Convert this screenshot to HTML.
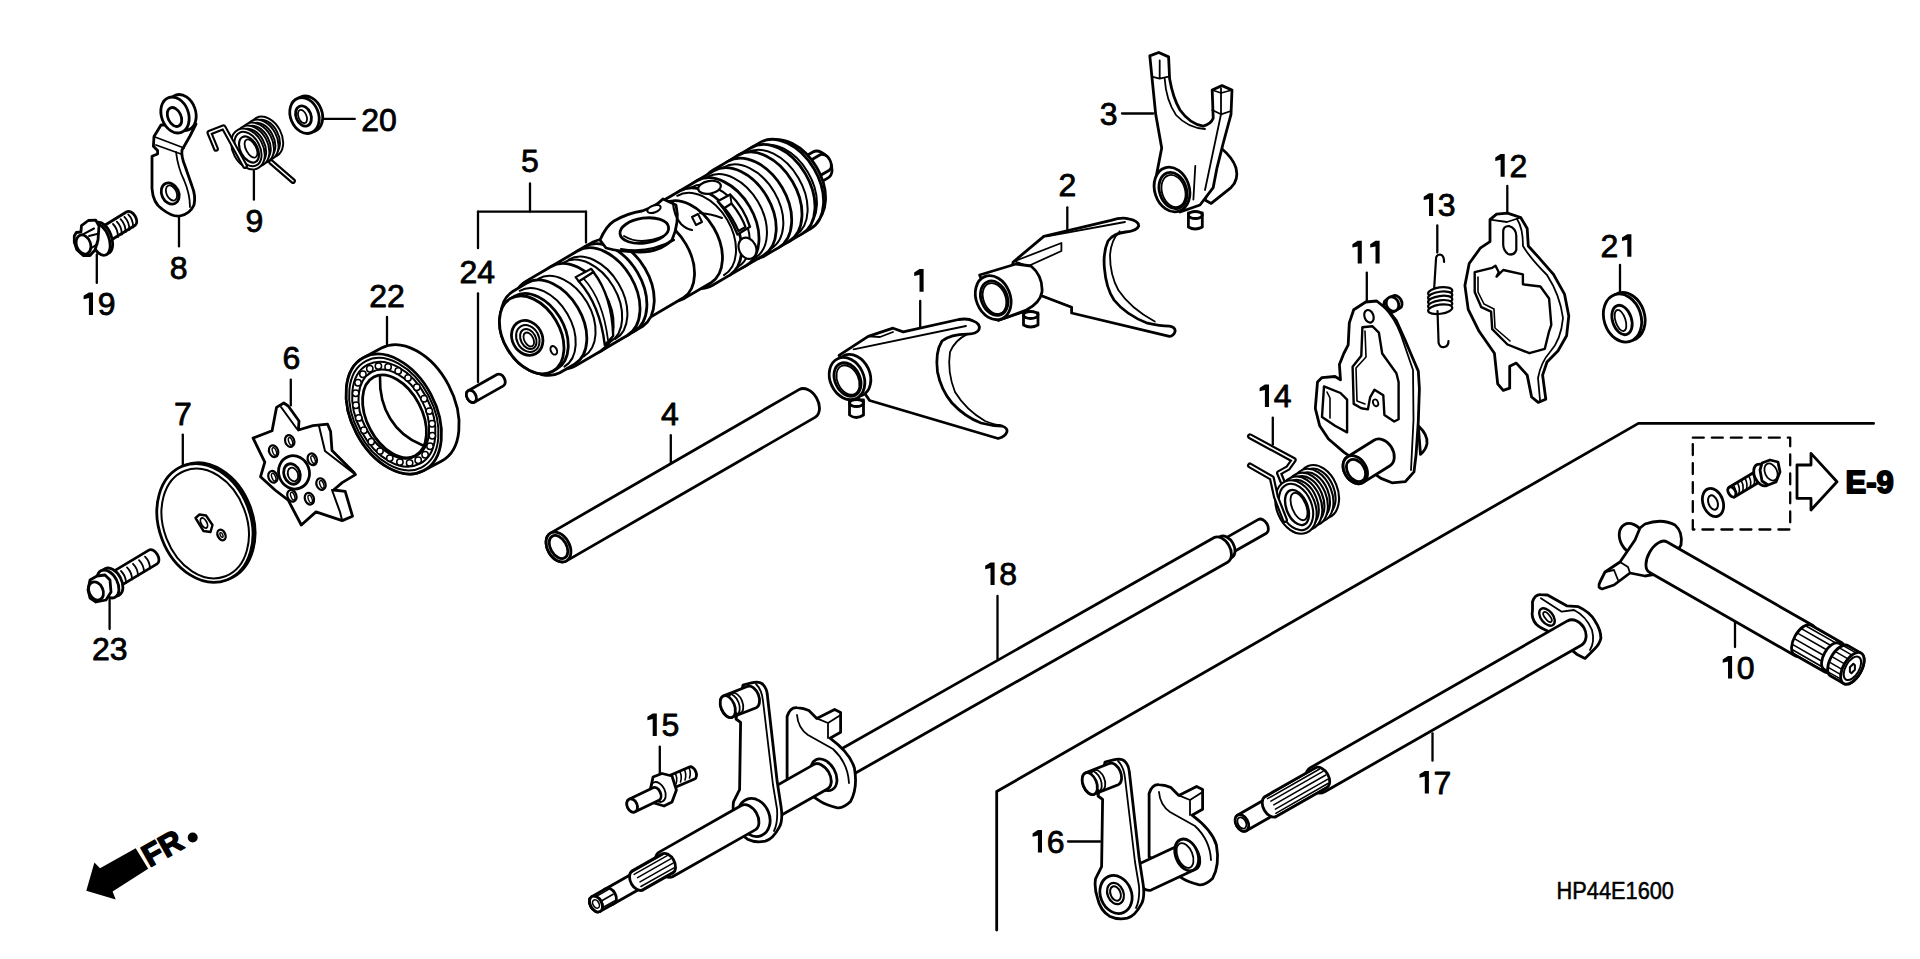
<!DOCTYPE html>
<html><head><meta charset="utf-8"><style>
html,body{margin:0;padding:0;background:#fff;width:1920px;height:959px;overflow:hidden}
svg{display:block}
text{font-family:"Liberation Sans",sans-serif;fill:#000;stroke:none}
</style></head><body>
<svg width="1920" height="959" viewBox="0 0 1920 959" stroke="#000" stroke-linejoin="round" stroke-linecap="round" fill="none">
<rect x="0" y="0" width="1920" height="959" fill="#fff" stroke="none"/>
<text x="361.2" y="131" font-size="32" text-anchor="start" font-weight="normal" style="stroke:#000;stroke-width:0.8px">2</text>
<text x="379" y="131" font-size="32" text-anchor="start" font-weight="normal" style="stroke:#000;stroke-width:0.8px">0</text>
<text x="245.6" y="231.8" font-size="32" text-anchor="start" font-weight="normal" style="stroke:#000;stroke-width:0.8px">9</text>
<text x="169.7" y="278.5" font-size="32" text-anchor="start" font-weight="normal" style="stroke:#000;stroke-width:0.8px">8</text>
<path d="M88.9,292.4 L93,292.4 L93,315 L88.9,315 L88.9,298 L83.6,299.2 L83.6,295.8 Z" fill="#000" stroke="none"/>
<text x="97.7" y="315" font-size="32" text-anchor="start" font-weight="normal" style="stroke:#000;stroke-width:0.8px">9</text>
<text x="521.1" y="172.2" font-size="32" text-anchor="start" font-weight="normal" style="stroke:#000;stroke-width:0.8px">5</text>
<text x="459.5" y="283.4" font-size="32" text-anchor="start" font-weight="normal" style="stroke:#000;stroke-width:0.8px">2</text>
<text x="477.3" y="283.4" font-size="32" text-anchor="start" font-weight="normal" style="stroke:#000;stroke-width:0.8px">4</text>
<text x="369.2" y="307" font-size="32" text-anchor="start" font-weight="normal" style="stroke:#000;stroke-width:0.8px">2</text>
<text x="387" y="307" font-size="32" text-anchor="start" font-weight="normal" style="stroke:#000;stroke-width:0.8px">2</text>
<text x="282.5" y="369.2" font-size="32" text-anchor="start" font-weight="normal" style="stroke:#000;stroke-width:0.8px">6</text>
<text x="174.1" y="425.3" font-size="32" text-anchor="start" font-weight="normal" style="stroke:#000;stroke-width:0.8px">7</text>
<text x="92" y="660" font-size="32" text-anchor="start" font-weight="normal" style="stroke:#000;stroke-width:0.8px">2</text>
<text x="109.8" y="660" font-size="32" text-anchor="start" font-weight="normal" style="stroke:#000;stroke-width:0.8px">3</text>
<text x="661.1" y="424.9" font-size="32" text-anchor="start" font-weight="normal" style="stroke:#000;stroke-width:0.8px">4</text>
<path d="M919.5,269.1 L923.6,269.1 L923.6,291.7 L919.5,291.7 L919.5,274.7 L914.2,275.9 L914.2,272.5 Z" fill="#000" stroke="none"/>
<text x="1099.7" y="124.5" font-size="32" text-anchor="start" font-weight="normal" style="stroke:#000;stroke-width:0.8px">3</text>
<text x="1058.4" y="196.4" font-size="32" text-anchor="start" font-weight="normal" style="stroke:#000;stroke-width:0.8px">2</text>
<path d="M1500.6,154.1 L1504.7,154.1 L1504.7,176.7 L1500.6,176.7 L1500.6,159.7 L1495.3,160.9 L1495.3,157.5 Z" fill="#000" stroke="none"/>
<text x="1509.4" y="176.7" font-size="32" text-anchor="start" font-weight="normal" style="stroke:#000;stroke-width:0.8px">2</text>
<path d="M1429,193.3 L1433.1,193.3 L1433.1,215.9 L1429,215.9 L1429,198.9 L1423.7,200.1 L1423.7,196.7 Z" fill="#000" stroke="none"/>
<text x="1437.8" y="215.9" font-size="32" text-anchor="start" font-weight="normal" style="stroke:#000;stroke-width:0.8px">3</text>
<path d="M1357.7,240.8 L1361.8,240.8 L1361.8,263.4 L1357.7,263.4 L1357.7,246.4 L1352.4,247.6 L1352.4,244.2 Z" fill="#000" stroke="none"/>
<path d="M1375.5,240.8 L1379.6,240.8 L1379.6,263.4 L1375.5,263.4 L1375.5,246.4 L1370.2,247.6 L1370.2,244.2 Z" fill="#000" stroke="none"/>
<text x="1600.5" y="256.8" font-size="32" text-anchor="start" font-weight="normal" style="stroke:#000;stroke-width:0.8px">2</text>
<path d="M1627.3,234.2 L1631.4,234.2 L1631.4,256.8 L1627.3,256.8 L1627.3,239.8 L1622,241 L1622,237.6 Z" fill="#000" stroke="none"/>
<path d="M1264.9,384.5 L1269,384.5 L1269,407.1 L1264.9,407.1 L1264.9,390.1 L1259.6,391.3 L1259.6,387.9 Z" fill="#000" stroke="none"/>
<text x="1273.7" y="407.1" font-size="32" text-anchor="start" font-weight="normal" style="stroke:#000;stroke-width:0.8px">4</text>
<path d="M990.5,562.4 L994.6,562.4 L994.6,585 L990.5,585 L990.5,568 L985.2,569.2 L985.2,565.8 Z" fill="#000" stroke="none"/>
<text x="999.3" y="585" font-size="32" text-anchor="start" font-weight="normal" style="stroke:#000;stroke-width:0.8px">8</text>
<path d="M652.7,713.4 L656.8,713.4 L656.8,736 L652.7,736 L652.7,719 L647.4,720.2 L647.4,716.8 Z" fill="#000" stroke="none"/>
<text x="661.5" y="736" font-size="32" text-anchor="start" font-weight="normal" style="stroke:#000;stroke-width:0.8px">5</text>
<path d="M1037.9,830 L1042,830 L1042,852.6 L1037.9,852.6 L1037.9,835.6 L1032.6,836.8 L1032.6,833.4 Z" fill="#000" stroke="none"/>
<text x="1046.7" y="852.6" font-size="32" text-anchor="start" font-weight="normal" style="stroke:#000;stroke-width:0.8px">6</text>
<path d="M1424.8,770.9 L1428.9,770.9 L1428.9,793.5 L1424.8,793.5 L1424.8,776.5 L1419.5,777.7 L1419.5,774.3 Z" fill="#000" stroke="none"/>
<text x="1433.6" y="793.5" font-size="32" text-anchor="start" font-weight="normal" style="stroke:#000;stroke-width:0.8px">7</text>
<path d="M1728,656 L1732.1,656 L1732.1,678.6 L1728,678.6 L1728,661.6 L1722.7,662.8 L1722.7,659.4 Z" fill="#000" stroke="none"/>
<text x="1736.8" y="678.6" font-size="32" text-anchor="start" font-weight="normal" style="stroke:#000;stroke-width:0.8px">0</text>
<line x1="322.5" y1="118.9" x2="354.8" y2="118.9" stroke-width="2.3"/>
<line x1="253.9" y1="171" x2="253.9" y2="199.7" stroke-width="2.3"/>
<line x1="179" y1="218" x2="179" y2="246.4" stroke-width="2.3"/>
<line x1="96.8" y1="254.5" x2="96.8" y2="282.9" stroke-width="2.3"/>
<line x1="530" y1="183.5" x2="530" y2="211.6" stroke-width="2.3"/>
<line x1="478" y1="211.6" x2="586" y2="211.6" stroke-width="2.3"/>
<line x1="586" y1="211.6" x2="586" y2="242.6" stroke-width="2.3"/>
<line x1="478" y1="211.6" x2="478" y2="248.2" stroke-width="2.3"/>
<line x1="478" y1="293.3" x2="478" y2="382" stroke-width="2.3"/>
<line x1="387" y1="317" x2="387" y2="344.6" stroke-width="2.3"/>
<line x1="290.8" y1="379.6" x2="290.8" y2="405.4" stroke-width="2.3"/>
<line x1="182.8" y1="434.6" x2="182.8" y2="465.6" stroke-width="2.3"/>
<line x1="109.6" y1="599.7" x2="109.6" y2="629" stroke-width="2.3"/>
<line x1="670.8" y1="435.2" x2="670.8" y2="462.4" stroke-width="2.3"/>
<line x1="920.2" y1="301" x2="920.2" y2="328.8" stroke-width="2.3"/>
<line x1="1122" y1="113.5" x2="1153.3" y2="113.5" stroke-width="2.3"/>
<line x1="1067.3" y1="207.3" x2="1067.3" y2="232.4" stroke-width="2.3"/>
<line x1="1507.3" y1="185.9" x2="1507.3" y2="215" stroke-width="2.3"/>
<line x1="1437.3" y1="225.5" x2="1437.3" y2="252.6" stroke-width="2.3"/>
<line x1="1366.8" y1="272.6" x2="1366.8" y2="300.5" stroke-width="2.3"/>
<line x1="1620" y1="265" x2="1620" y2="294.3" stroke-width="2.3"/>
<line x1="1272.8" y1="417.6" x2="1272.8" y2="444.7" stroke-width="2.3"/>
<line x1="997.5" y1="596" x2="997.5" y2="659" stroke-width="2.3"/>
<line x1="659.8" y1="746.6" x2="659.8" y2="774.4" stroke-width="2.3"/>
<line x1="1068" y1="841.5" x2="1100" y2="841.5" stroke-width="2.3"/>
<line x1="1432.5" y1="733.3" x2="1432.5" y2="760.7" stroke-width="2.3"/>
<line x1="1735" y1="622" x2="1735" y2="647" stroke-width="2.3"/>
<path d="M996.7,930 L996.7,791.5 L1638.4,423.4 L1873.6,423.4" fill="none" stroke-width="2.8"/>
<rect x="1692.8" y="437.7" width="97.4" height="91.8" fill="none" stroke-width="2.3" stroke-dasharray="11,8"/>
<path d="M1797,465 L1811,465 L1811,453.4 L1837,481.7 L1811,510 L1811,498.4 L1797,498.4 Z" fill="none" stroke-width="2.8"/>
<text x="1845.5" y="493" font-size="31" text-anchor="start" font-weight="bold" style="stroke:#000;stroke-width:1.8px">E-9</text>
<text x="1556.5" y="899.3" font-size="23.3" text-anchor="start" font-weight="normal" textLength="117.5" lengthAdjust="spacingAndGlyphs" style="stroke:#000;stroke-width:0.5px">HP44E1600</text>
<path d="M86.3,890.7 L94.4,862.6 L100,868.2 L135.7,848.2 L148.2,868.8 L112.6,891.4 L115.7,899.5 Z" fill="#000" stroke="none"/>
<text x="0" y="0" font-size="31" font-weight="bold" style="stroke:#000;stroke-width:1.6px" transform="translate(149.5,867.5) rotate(-29.3)">FR</text>
<circle cx="192.7" cy="837.5" r="5" fill="#000" stroke="none"/>
<path d="M566.5,560.9 L815,417.4 A11,16 -30 0 0 799,389.6 L550.5,533.1 A11,16 -30 0 0 566.5,560.9 Z" fill="#fff" stroke-width="2.8"/>
<ellipse cx="558.5" cy="547" rx="11" ry="16" transform="rotate(-30 558.5 547)" fill="#fff" stroke-width="2.8"/>
<ellipse cx="558.5" cy="547" rx="8" ry="12.5" transform="rotate(-30 558.5 547)" fill="none" stroke-width="2.8"/>
<ellipse cx="308" cy="114" rx="14" ry="18.5" transform="rotate(-22 308 114)" fill="#fff" stroke-width="2.8"/>
<ellipse cx="304.5" cy="115.5" rx="14" ry="18.5" transform="rotate(-22 304.5 115.5)" fill="#fff" stroke-width="2.8"/>
<ellipse cx="303.5" cy="116" rx="7.5" ry="10.5" transform="rotate(-22 303.5 116)" fill="#fff" stroke-width="2.8"/>
<ellipse cx="302.5" cy="116.5" rx="4" ry="7" transform="rotate(-22 302.5 116.5)" fill="none" stroke-width="1.8"/>
<path d="M271,162 L293,181" fill="none" stroke-width="5.8"/>
<path d="M271,162 L293,181" fill="none" stroke="#fff" stroke-width="1.6"/>
<ellipse cx="266.4" cy="137" rx="13.5" ry="20" transform="rotate(-28 266.4 137)" fill="#fff" stroke-width="5.2"/>
<ellipse cx="266.4" cy="137" rx="13.5" ry="20" transform="rotate(-28 266.4 137)" fill="none" stroke="#fff" stroke-width="1.3"/>
<ellipse cx="261.8" cy="140" rx="13.5" ry="20" transform="rotate(-28 261.8 140)" fill="#fff" stroke-width="5.2"/>
<ellipse cx="261.8" cy="140" rx="13.5" ry="20" transform="rotate(-28 261.8 140)" fill="none" stroke="#fff" stroke-width="1.3"/>
<ellipse cx="257.2" cy="143" rx="13.5" ry="20" transform="rotate(-28 257.2 143)" fill="#fff" stroke-width="5.2"/>
<ellipse cx="257.2" cy="143" rx="13.5" ry="20" transform="rotate(-28 257.2 143)" fill="none" stroke="#fff" stroke-width="1.3"/>
<ellipse cx="252.6" cy="146" rx="13.5" ry="20" transform="rotate(-28 252.6 146)" fill="#fff" stroke-width="5.2"/>
<ellipse cx="252.6" cy="146" rx="13.5" ry="20" transform="rotate(-28 252.6 146)" fill="none" stroke="#fff" stroke-width="1.3"/>
<ellipse cx="248" cy="149" rx="13.5" ry="20" transform="rotate(-28 248 149)" fill="#fff" stroke-width="5.2"/>
<ellipse cx="248" cy="149" rx="13.5" ry="20" transform="rotate(-28 248 149)" fill="none" stroke="#fff" stroke-width="1.3"/>
<ellipse cx="249" cy="149.5" rx="8.5" ry="14" transform="rotate(-28 249 149.5)" fill="none" stroke-width="2.2"/>
<ellipse cx="251" cy="148.5" rx="5" ry="10" transform="rotate(-28 251 148.5)" fill="none" stroke-width="1.8"/>
<path d="M245,166 L223.5,127.2 L209.4,132.8 L216,148.8" fill="none" stroke-width="5.8"/>
<path d="M245,166 L223.5,127.2 L209.4,132.8 L216,148.8" fill="none" stroke="#fff" stroke-width="1.6"/>
<path d="M161,125 L154,136.5 L153.4,146.3 L157.6,150.6 L157.6,154 L152,156.2 L152,188.6 Q153,203 162,209 Q172,217 180,216 Q190,214 194,205 Q196,196 192,186 L185,166 Q181,156 182,150 L190,136 L196,124 Z" fill="#fff" stroke-width="2.8"/>
<path d="M176,152 Q178,168 184,180 Q190,194 190,207" fill="none" stroke-width="1.8"/>
<path d="M155,137 L184,148 M156,145 L181,154" fill="none" stroke-width="1.8"/>
<ellipse cx="182" cy="112.5" rx="13.5" ry="18.5" transform="rotate(-20 182 112.5)" fill="#fff" stroke-width="2.8"/>
<ellipse cx="175" cy="115" rx="13.5" ry="18.5" transform="rotate(-20 175 115)" fill="#fff" stroke-width="2.8"/>
<ellipse cx="174.5" cy="117" rx="6.5" ry="10" transform="rotate(-25 174.5 117)" fill="#fff" stroke-width="2.8"/>
<ellipse cx="170.2" cy="193.5" rx="8.5" ry="11" transform="rotate(-25 170.2 193.5)" fill="#fff" stroke-width="2.8"/>
<ellipse cx="171.5" cy="193" rx="5" ry="8" transform="rotate(-25 171.5 193)" fill="none" stroke-width="1.8"/>
<path d="M113.2,238.8 L135.2,225.3 A5,8 -31.5 0 0 126.8,211.7 L104.8,225.2 A5,8 -31.5 0 0 113.2,238.8 Z" fill="#fff" stroke-width="2.8"/>
<path d="M113,224 Q118,229 118,237" fill="none" stroke-width="1.8"/>
<path d="M116.8,221.6 Q121.8,226.6 121.8,234.6" fill="none" stroke-width="1.8"/>
<path d="M120.6,219.2 Q125.6,224.2 125.6,232.2" fill="none" stroke-width="1.8"/>
<path d="M124.4,216.8 Q129.4,221.8 129.4,229.8" fill="none" stroke-width="1.8"/>
<path d="M128.2,214.4 Q133.2,219.4 133.2,227.4" fill="none" stroke-width="1.8"/>
<ellipse cx="102.5" cy="238" rx="9" ry="16.5" transform="rotate(-20 102.5 238)" fill="#fff" stroke-width="2.8"/>
<ellipse cx="100" cy="239.5" rx="9" ry="16.5" transform="rotate(-20 100 239.5)" fill="#fff" stroke-width="2.8"/>
<path d="M74.3,236 L76.3,232.5 L80.9,232 L81.5,225.6 L88.3,220.5 L95.8,220.2 L99,226 L98,240 L95,250 L90,255.5 L83.2,255.5 L76.9,249.7 L74.3,242.3 Z" fill="#fff" stroke-width="2.8"/>
<ellipse cx="83.5" cy="244.5" rx="7" ry="9.8" transform="rotate(-20 83.5 244.5)" fill="#fff" stroke-width="2.8"/>
<path d="M82,234.8 L94,228.5" fill="none" stroke-width="2"/>
<path d="M90,249 L97.5,244" fill="none" stroke-width="2"/>
<path d="M89,236 L97,234" fill="none" stroke-width="2"/>
<path d="M789.3,200.7 L828.1,177.9 A10.1,15 -30.5 0 0 812.9,152 L774.1,174.8 A10.1,15 -30.5 0 0 789.3,200.7 Z" fill="#fff" stroke-width="2.8"/>
<path d="M816.4,177.8 L829.3,170.2 A6,9 -30.5 0 0 820.2,154.7 L807.3,162.3 A6,9 -30.5 0 0 816.4,177.8 Z" fill="#fff" stroke-width="2.8"/>
<path d="M809,226.3 L814.1,223.2 A31.5,47 -30.5 0 0 766.5,142.2 L761.3,145.2 A31.5,47 -30.5 0 0 809,226.3 Z" fill="#fff" stroke-width="2.8"/>
<path d="M801.9,233.9 L810.5,228.8 A33.5,50 -30.5 0 0 759.8,142.6 L751.2,147.7 A33.5,50 -30.5 0 0 801.9,233.9 Z" fill="#fff" stroke-width="2.8"/>
<path d="M757.9,147.3 A31.5,47 -30.5 0 1 805.5,228.3" fill="none" stroke-width="2.0"/>
<path d="M788.9,241.5 L801.9,233.9 A33.5,50 -30.5 0 0 751.2,147.7 L738.2,155.3 A33.5,50 -30.5 0 0 788.9,241.5 Z" fill="#fff" stroke-width="2.8"/>
<path d="M747,152.5 A32.2,48 -30.5 0 1 795.7,235.2" fill="none" stroke-width="2.0"/>
<path d="M778.6,247.6 L788.9,241.5 A33.5,50 -30.5 0 0 738.2,155.3 L727.9,161.4 A33.5,50 -30.5 0 0 778.6,247.6 Z" fill="#fff" stroke-width="2.8"/>
<path d="M763.9,256.2 L778.6,247.6 A33.5,50 -30.5 0 0 727.9,161.4 L713.2,170 A33.5,50 -30.5 0 0 763.9,256.2 Z" fill="#fff" stroke-width="2.8"/>
<path d="M723.4,167.5 A31.5,47 -30.5 0 1 771,248.6" fill="none" stroke-width="2.0"/>
<path d="M746.2,265.5 L763.4,255.4 A32.8,49 -30.5 0 0 713.7,170.9 L696.5,181 A32.8,49 -30.5 0 0 746.2,265.5 Z" fill="#fff" stroke-width="2.8"/>
<path d="M707.9,176.7 A31.5,47 -30.5 0 1 755.5,257.7" fill="none" stroke-width="2.0"/>
<path d="M729.8,275.1 L746.2,265.5 A32.8,49 -30.5 0 0 696.5,181 L680.1,190.7 A32.8,49 -30.5 0 0 729.8,275.1 Z" fill="#fff" stroke-width="2.8"/>
<path d="M691.1,187.7 A30.8,46 -30.5 0 1 737.8,267" fill="none" stroke-width="2.0"/>
<path d="M712.6,285.3 L729.8,275.1 A32.8,49 -30.5 0 0 680.1,190.7 L662.9,200.8 A32.8,49 -30.5 0 0 712.6,285.3 Z" fill="#fff" stroke-width="2.8"/>
<path d="M677.3,195.8 A30.8,46 -30.5 0 1 724,275.1" fill="none" stroke-width="2.0"/>
<path d="M684.3,298.4 L711,282.7 A30.8,46 -30.5 0 0 664.4,203.4 L637.7,219.1 A30.8,46 -30.5 0 0 684.3,298.4 Z" fill="#fff" stroke-width="2.8"/>
<path d="M640.7,322.9 L683.8,297.5 A30.2,45 -30.5 0 0 638.2,220 L595.1,245.3 A30.2,45 -30.5 0 0 640.7,322.9 Z" fill="#fff" stroke-width="2.8"/>
<path d="M634.1,331.4 L642.7,326.3 A32.8,49 -30.5 0 0 593.1,241.9 L584.4,246.9 A32.8,49 -30.5 0 0 634.1,331.4 Z" fill="#fff" stroke-width="2.8"/>
<path d="M627.2,335.5 L634.1,331.4 A32.8,49 -30.5 0 0 584.4,246.9 L577.5,251 A32.8,49 -30.5 0 0 627.2,335.5 Z" fill="#fff" stroke-width="2.8"/>
<path d="M600.5,351.2 L627.2,335.5 A32.8,49 -30.5 0 0 577.5,251 L550.8,266.7 A32.8,49 -30.5 0 0 600.5,351.2 Z" fill="#fff" stroke-width="2.8"/>
<path d="M563.5,262.7 A30.8,46 -30.5 0 1 610.2,342" fill="none" stroke-width="2.0"/>
<path d="M568.7,259.7 A30.8,46 -30.5 0 1 615.4,339" fill="none" stroke-width="2.0"/>
<path d="M575.5,365.9 L600.5,351.2 A32.8,49 -30.5 0 0 550.8,266.7 L525.8,281.4 A32.8,49 -30.5 0 0 575.5,365.9 Z" fill="#fff" stroke-width="2.8"/>
<path d="M538.2,278.8 A30.2,45 -30.5 0 1 583.8,356.4" fill="none" stroke-width="2.0"/>
<path d="M559.8,372.8 L574.5,364.2 A31.5,47 -30.5 0 0 526.8,283.1 L512.2,291.8 A31.5,47 -30.5 0 0 559.8,372.8 Z" fill="#fff" stroke-width="2.8"/>
<path d="M519.7,290.8 A29.5,44 -30.5 0 1 564.4,366.6" fill="none" stroke-width="2.0"/>
<path d="M553,371 L557.3,368.5 A28.1,42 -30.5 0 0 514.7,296.1 L510.4,298.6 A28.1,42 -30.5 0 0 553,371 Z" fill="#fff" stroke-width="2.8"/>
<ellipse cx="531.7" cy="334.8" rx="28.1" ry="42" transform="rotate(-30.5 531.7 334.8)" fill="#fff" stroke-width="2.8"/>
<ellipse cx="527.2" cy="337.9" rx="15" ry="18" transform="rotate(-28 527.2 337.9)" fill="#fff" stroke-width="2.8"/>
<ellipse cx="527.8" cy="338.5" rx="11" ry="14" transform="rotate(-28 527.8 338.5)" fill="none" stroke-width="2"/>
<ellipse cx="528.3" cy="339" rx="7.5" ry="10.5" transform="rotate(-28 528.3 339)" fill="none" stroke-width="2"/>
<ellipse cx="528.8" cy="339.5" rx="4.5" ry="7.5" transform="rotate(-28 528.8 339.5)" fill="none" stroke-width="1.8"/>
<ellipse cx="553.8" cy="350.3" rx="3" ry="4.5" transform="rotate(-25 553.8 350.3)" fill="#fff" stroke-width="2"/>
<path d="M578.8,281.3 Q600,305 604.8,345 L613.2,336 Q612,296 593.4,271.9 Z" fill="#fff" stroke-width="2.4"/>
<path d="M575.6,277.1 L591.3,268.8 L593.4,271.9 L578.8,281.3 Z" fill="#fff" stroke-width="2.2"/>
<path d="M584,279 Q603,300 608,340" fill="none" stroke-width="1.8"/>
<path d="M600,240 Q606,226 614,221 Q628,213 642,211 Q655,207 663,199 L676,205 Q680,222 672,240 Q660,252 640,252 Q620,252 606,248 Z" fill="#fff" stroke-width="2.8"/>
<ellipse cx="644.3" cy="230.6" rx="24.5" ry="12.5" transform="rotate(-8 644.3 230.6)" fill="#fff" stroke-width="2.8"/>
<path d="M624,236 Q640,246 664,236" fill="none" stroke-width="2"/>
<path d="M621,249 Q648,254 674,240" fill="none" stroke-width="2.2"/>
<path d="M673,203 Q674,216 681,224 Q686,229 692,230" fill="none" stroke-width="2.2"/>
<path d="M692,217 L698,214 L702,222 L696,225 Z" fill="none" stroke-width="2"/>
<path d="M700,213 Q712,214 722,218" fill="none" stroke-width="2"/>
<path d="M717.7,201.3 L730.2,194.5 Q744,208 750,226.8 L737.5,234.6 Q730,216 717.7,201.3 Z" fill="#fff" stroke-width="2.4"/>
<path d="M724.5,208 L731.5,203.5 Q741,215 745.5,227 L738.5,231 Q733,218 724.5,208 Z" fill="none" stroke-width="2.2"/>
<path d="M719.5,203 L724.5,208" fill="none" stroke-width="1.8"/>
<path d="M730.2,194.5 L731.5,203.5" fill="none" stroke-width="1.8"/>
<ellipse cx="709.5" cy="187.3" rx="11.5" ry="6.3" transform="rotate(-10 709.5 187.3)" fill="#fff" stroke-width="2.2"/>
<ellipse cx="747.5" cy="248.3" rx="8.5" ry="11" transform="rotate(-25 747.5 248.3)" fill="#fff" stroke-width="2.2"/>
<ellipse cx="654" cy="209" rx="7" ry="3.5" transform="rotate(-20 654 209)" fill="#fff" stroke-width="2"/>
<path d="M849.5,400 L849.5,415 Q856,420 863.5,415 L863.5,400 Z" fill="#fff" stroke-width="2.8"/>
<ellipse cx="856.5" cy="403" rx="7" ry="3.5" fill="#fff" stroke-width="2.8"/>
<path d="M839,355.3 L868.2,336.3 L893,328.2 L903.2,331.9 L958.7,319.5 Q968,318 973.3,321 Q981,324 979,329.5 Q977,334 967.4,334.1 Q951,334 942,341 Q935,352 937.5,372 Q941,390 952,403 Q965,417 981,423 Q992,426 1002,426 Q1008,428 1006.9,432 Q1005,437 998.1,438.5 L869.6,400.5 Z" fill="#fff" stroke-width="2.8"/>
<path d="M853.6,349.4 L966,326" fill="none" stroke-width="1.8"/>
<path d="M967.4,334.1 Q955,340 950,352 Q947,372 955,392 Q966,410 985,421 Q995,425 1000,425" fill="none" stroke-width="1.8"/>
<path d="M868.2,336.3 L880,337 L893,332" fill="none" stroke-width="1.8"/>
<ellipse cx="853" cy="375.5" rx="16.8" ry="21.9" transform="rotate(-25 853 375.5)" fill="#fff" stroke-width="2.8"/>
<ellipse cx="847" cy="378.6" rx="16.8" ry="21.9" transform="rotate(-25 847 378.6)" fill="#fff" stroke-width="2.8"/>
<ellipse cx="847.5" cy="379.5" rx="12.5" ry="17.5" transform="rotate(-25 847.5 379.5)" fill="#fff" stroke-width="2.8"/>
<ellipse cx="848" cy="380" rx="10.5" ry="15.5" transform="rotate(-25 848 380)" fill="none" stroke-width="1.8"/>
<path d="M1023.5,313 L1023.5,325 Q1030.5,329 1038,325 L1038,313 Z" fill="#fff" stroke-width="2.8"/>
<ellipse cx="1030.7" cy="315" rx="7.3" ry="3.5" fill="#fff" stroke-width="2.8"/>
<path d="M1013.2,262 L1043.8,236.4 L1111,220.3 Q1122,217 1128.5,218.9 Q1139,221 1138.7,226 Q1137,231 1125.6,232 Q1114,233 1108,241 Q1103,252 1104.4,268 Q1106,288 1114,300 Q1126,315 1147.5,323.2 Q1160,326 1169.4,326.2 Q1175,327 1175.2,331 Q1174,336 1169.4,336.4 L1071.6,313 L1071.6,307.2 L1040.9,295.5 L1030.7,301.4 L1027.8,310.1 L998.6,320.3 Z" fill="#fff" stroke-width="2.8"/>
<path d="M1119.7,231.3 Q1111,240 1110,255 Q1110,275 1118.3,290 Q1130,308 1154.8,321.5" fill="none" stroke-width="1.8"/>
<path d="M1014.6,261.2 L1061.4,243 L1061.4,251 L1027.8,266.3 Z M1046.8,236.4 L1125,222" fill="none" stroke-width="1.8"/>
<path d="M1071.6,307.2 L1040.9,295.5 L1030.7,301.4" fill="none" stroke-width="1.8"/>
<path d="M979.6,275 L1016,264 L1031,266 Q1043,276 1042,292 Q1040,303 1026.3,310.1 L998.6,320.3 Z" fill="#fff" stroke-width="2.8"/>
<ellipse cx="993.2" cy="297.7" rx="17" ry="22.7" transform="rotate(-22 993.2 297.7)" fill="#fff" stroke-width="2.8"/>
<ellipse cx="994.2" cy="298.2" rx="13" ry="17.8" transform="rotate(-22 994.2 298.2)" fill="#fff" stroke-width="2.8"/>
<ellipse cx="994.5" cy="298.5" rx="11" ry="16" transform="rotate(-22 994.5 298.5)" fill="none" stroke-width="1.8"/>
<path d="M1188.4,213 L1188.4,227 Q1195,231 1202.3,227 L1202.3,213 Z" fill="#fff" stroke-width="2.8"/>
<ellipse cx="1195.3" cy="215" rx="7" ry="3.5" fill="#fff" stroke-width="2.8"/>
<path d="M1221,148 Q1233,158 1236,168 Q1239,180 1231,187.6 L1211.2,203.4 L1205,200 Z" fill="#fff" stroke-width="2.8"/>
<path d="M1149.8,55.9 L1158.7,52.5 L1168.6,56.9 L1169.6,78.7 Q1173,98 1180,110 Q1190,124 1203.3,126.2 Q1211,124 1213.2,118.3 L1212.2,90 L1222,85.6 L1232,90 L1231,114.3 L1223,144 L1217,167.8 L1213.2,187.6 L1200,205 L1180,212 L1156.7,173.7 L1161.7,148 L1155.7,114.3 Z" fill="#fff" stroke-width="2.8"/>
<path d="M1164.7,78.7 Q1166,100 1176,115 Q1188,128 1205,129" fill="none" stroke-width="1.8"/>
<path d="M1151.8,76.7 L1159.7,78.7 L1168.6,76.7 M1159.7,60.4 L1159.7,78.7 M1212.2,110 L1221,114.3 L1231,111 M1221,88.5 L1221,114.3" fill="none" stroke-width="1.8"/>
<path d="M1212.2,90 L1221,93 L1232,90" fill="none" stroke-width="1.8"/>
<path d="M1221,114.3 L1205,190 M1195.3,165.8 L1193.4,199.5" fill="none" stroke-width="1.8"/>
<ellipse cx="1172" cy="189.5" rx="17.3" ry="22.8" transform="rotate(-18 1172 189.5)" fill="#fff" stroke-width="2.8"/>
<ellipse cx="1173" cy="190.5" rx="13.5" ry="18.5" transform="rotate(-18 1173 190.5)" fill="#fff" stroke-width="2.8"/>
<ellipse cx="1173.5" cy="191" rx="11.5" ry="16.5" transform="rotate(-18 1173.5 191)" fill="none" stroke-width="1.8"/>
<path d="M423.7,470.6 L441.3,461.3 A42,64 -27.9 0 0 381.5,348.1 L363.9,357.4 A42,64 -27.9 0 0 423.7,470.6 Z" fill="#fff" stroke-width="2.8"/>
<ellipse cx="393.8" cy="414" rx="42" ry="64" transform="rotate(-27.9 393.8 414)" fill="#fff" stroke-width="2.8"/>
<ellipse cx="393.8" cy="414.2" rx="39.4" ry="60" transform="rotate(-27.8 393.8 414.2)" fill="none" stroke-width="2"/>
<ellipse cx="393.8" cy="414.2" rx="36.7" ry="56" transform="rotate(-27.8 393.8 414.2)" fill="none" stroke-width="2"/>
<ellipse cx="393.8" cy="414.2" rx="31.2" ry="47.5" transform="rotate(-27.8 393.8 414.2)" fill="none" stroke-width="2"/>
<circle cx="424.1" cy="398.7" r="3.2" fill="#fff" stroke-width="1.5"/>
<circle cx="429.3" cy="411.1" r="3.2" fill="#fff" stroke-width="1.5"/>
<circle cx="432.1" cy="423.7" r="3.2" fill="#fff" stroke-width="1.5"/>
<circle cx="432.3" cy="435.7" r="3.2" fill="#fff" stroke-width="1.5"/>
<circle cx="430" cy="446.3" r="3.2" fill="#fff" stroke-width="1.5"/>
<circle cx="425.1" cy="454.7" r="3.2" fill="#fff" stroke-width="1.5"/>
<circle cx="418.2" cy="460.3" r="3.2" fill="#fff" stroke-width="1.5"/>
<circle cx="409.6" cy="462.9" r="3.2" fill="#fff" stroke-width="1.5"/>
<circle cx="399.9" cy="462.1" r="3.2" fill="#fff" stroke-width="1.5"/>
<circle cx="389.8" cy="458.1" r="3.2" fill="#fff" stroke-width="1.5"/>
<circle cx="380" cy="451.1" r="3.2" fill="#fff" stroke-width="1.5"/>
<circle cx="371.2" cy="441.7" r="3.2" fill="#fff" stroke-width="1.5"/>
<circle cx="363.9" cy="430.3" r="3.2" fill="#fff" stroke-width="1.5"/>
<circle cx="358.7" cy="417.9" r="3.2" fill="#fff" stroke-width="1.5"/>
<circle cx="355.9" cy="405.3" r="3.2" fill="#fff" stroke-width="1.5"/>
<circle cx="355.7" cy="393.3" r="3.2" fill="#fff" stroke-width="1.5"/>
<circle cx="358" cy="382.7" r="3.2" fill="#fff" stroke-width="1.5"/>
<circle cx="362.9" cy="374.3" r="3.2" fill="#fff" stroke-width="1.5"/>
<circle cx="369.8" cy="368.7" r="3.2" fill="#fff" stroke-width="1.5"/>
<circle cx="378.4" cy="366.1" r="3.2" fill="#fff" stroke-width="1.5"/>
<circle cx="388.1" cy="366.9" r="3.2" fill="#fff" stroke-width="1.5"/>
<circle cx="398.2" cy="370.9" r="3.2" fill="#fff" stroke-width="1.5"/>
<circle cx="408" cy="377.9" r="3.2" fill="#fff" stroke-width="1.5"/>
<circle cx="416.8" cy="387.3" r="3.2" fill="#fff" stroke-width="1.5"/>
<ellipse cx="394.5" cy="416.4" rx="27.5" ry="44.5" transform="rotate(-27.8 394.5 416.4)" fill="#fff" stroke-width="2.8"/>
<path d="M380,377 C379,408 394,434 422,445" fill="none" stroke-width="2.6"/>
<path d="M474.6,402.1 L503.4,385.9 A4.5,6.5 -29.4 0 0 497,374.5 L468.2,390.7 A4.5,6.5 -29.4 0 0 474.6,402.1 Z" fill="#fff" stroke-width="2.8"/>
<ellipse cx="471.4" cy="396.4" rx="4.5" ry="6.5" transform="rotate(-29.4 471.4 396.4)" fill="#fff" stroke-width="2.8"/>
<ellipse cx="207" cy="522" rx="45.8" ry="61" transform="rotate(-21 207 522)" fill="#fff" stroke-width="2.8"/>
<ellipse cx="204.9" cy="523" rx="45.8" ry="61" transform="rotate(-21 204.9 523)" fill="#fff" stroke-width="2.8"/>
<ellipse cx="205.2" cy="523.5" rx="41.5" ry="56.5" transform="rotate(-21 205.2 523.5)" fill="none" stroke-width="2"/>
<path d="M195.5,518 L199.5,514.5 L206,515.5 L212.5,525 L210.5,532 L203.5,531 Z" fill="none" stroke-width="2.4"/>
<ellipse cx="204" cy="523" rx="2.8" ry="5.5" transform="rotate(-28 204 523)" fill="none" stroke-width="1.8"/>
<ellipse cx="221.5" cy="535" rx="3.8" ry="5.5" transform="rotate(-25 221.5 535)" fill="#fff" stroke-width="2.4"/>
<ellipse cx="221.5" cy="535" rx="1.2" ry="2.5" transform="rotate(-25 221.5 535)" fill="none" stroke-width="1.4"/>
<path d="M122.1,584.9 L157.1,563.9 A5,8 -31 0 0 148.9,550.1 L113.9,571.1 A5,8 -31 0 0 122.1,584.9 Z" fill="#fff" stroke-width="2.8"/>
<path d="M121,571 Q126,576 126,583" fill="none" stroke-width="1.8"/>
<path d="M127,567.4 Q132,572.4 132,579.4" fill="none" stroke-width="1.8"/>
<path d="M133,563.8 Q138,568.8 138,575.8" fill="none" stroke-width="1.8"/>
<path d="M139,560.2 Q144,565.2 144,572.2" fill="none" stroke-width="1.8"/>
<path d="M145,556.6 Q150,561.6 150,568.6" fill="none" stroke-width="1.8"/>
<ellipse cx="112" cy="582" rx="9.5" ry="15" transform="rotate(-28 112 582)" fill="#fff" stroke-width="2.8"/>
<ellipse cx="108" cy="584" rx="9.5" ry="15" transform="rotate(-28 108 584)" fill="#fff" stroke-width="2.8"/>
<path d="M88,590 L90,580 L97,576 L105,575 L110,580 L111,592 L106,600 L96,602 L90,598 Z" fill="#fff" stroke-width="2.8"/>
<ellipse cx="96" cy="591" rx="7" ry="9.5" transform="rotate(-25 96 591)" fill="#fff" stroke-width="2.8"/>
<path d="M276.5,407.4 L283.8,403 L288.2,406 L299,421 L298.4,430 L313,425.7 L327.6,424.2 L330.6,431.5 L332,450.5 L354,472.4 L355.4,474.6 L342.2,482.6 L333.5,490 L345.2,491.4 L352.5,516.2 L342.2,520.6 L316,511.9 L301.3,525 L288.2,500.2 L275,490 L260.5,476.8 L264.8,462.2 L253.1,438.1 L272.1,430.8 Z" fill="#fff" stroke-width="2.8"/>
<path d="M281,407 L297,429" fill="none" stroke-width="2"/>
<path d="M319,426 L325,451 L354,473.5" fill="none" stroke-width="2"/>
<path d="M332,490 L340,512 L342,520" fill="none" stroke-width="2"/>
<ellipse cx="294" cy="472.4" rx="15.3" ry="16.8" transform="rotate(-20 294 472.4)" fill="#fff" stroke-width="2.8"/>
<ellipse cx="292" cy="474" rx="8" ry="10.5" transform="rotate(-20 292 474)" fill="#fff" stroke-width="2.8"/>
<ellipse cx="293" cy="474.5" rx="5" ry="7" transform="rotate(-20 293 474.5)" fill="none" stroke-width="1.8"/>
<ellipse cx="289.7" cy="441" rx="4.5" ry="6" transform="rotate(-20 289.7 441)" fill="#fff" stroke-width="2.2"/>
<ellipse cx="290.5" cy="441.3" rx="1.8" ry="4" transform="rotate(-20 290.5 441.3)" fill="none" stroke-width="1.4"/>
<ellipse cx="273.6" cy="451.2" rx="4.5" ry="6" transform="rotate(-20 273.6 451.2)" fill="#fff" stroke-width="2.2"/>
<ellipse cx="274.4" cy="451.5" rx="1.8" ry="4" transform="rotate(-20 274.4 451.5)" fill="none" stroke-width="1.4"/>
<ellipse cx="312.3" cy="459.3" rx="4.5" ry="6" transform="rotate(-20 312.3 459.3)" fill="#fff" stroke-width="2.2"/>
<ellipse cx="313.1" cy="459.6" rx="1.8" ry="4" transform="rotate(-20 313.1 459.6)" fill="none" stroke-width="1.4"/>
<ellipse cx="272.9" cy="476.8" rx="4.5" ry="6" transform="rotate(-20 272.9 476.8)" fill="#fff" stroke-width="2.2"/>
<ellipse cx="273.7" cy="477.1" rx="1.8" ry="4" transform="rotate(-20 273.7 477.1)" fill="none" stroke-width="1.4"/>
<ellipse cx="321" cy="484.1" rx="4.5" ry="6" transform="rotate(-20 321 484.1)" fill="#fff" stroke-width="2.2"/>
<ellipse cx="321.8" cy="484.4" rx="1.8" ry="4" transform="rotate(-20 321.8 484.4)" fill="none" stroke-width="1.4"/>
<ellipse cx="291.9" cy="495.8" rx="4.5" ry="6" transform="rotate(-20 291.9 495.8)" fill="#fff" stroke-width="2.2"/>
<ellipse cx="292.7" cy="496.1" rx="1.8" ry="4" transform="rotate(-20 292.7 496.1)" fill="none" stroke-width="1.4"/>
<ellipse cx="309.4" cy="498.7" rx="4.5" ry="6" transform="rotate(-20 309.4 498.7)" fill="#fff" stroke-width="2.2"/>
<ellipse cx="310.2" cy="499" rx="1.8" ry="4" transform="rotate(-20 310.2 499)" fill="none" stroke-width="1.4"/>
<path d="M1393,312.1 L1400,308.1 A5,7 -29.7 0 0 1393,295.9 L1386,299.9 A5,7 -29.7 0 0 1393,312.1 Z" fill="#fff" stroke-width="2.8"/>
<path d="M1418.3,425.8 Q1428,435 1427,443.4 Q1426,450 1420.5,454.3 Z" fill="#fff" stroke-width="2.8"/>
<path d="M1365.7,302 L1376.7,301 L1387.6,309.7 L1396.4,320.7 L1405.2,340.4 L1411.7,355.7 L1418.3,371.1 L1419.4,388.6 L1418.3,421.5 L1416.1,454.3 L1414,471.9 L1405.2,481.7 L1392,482.8 L1381,478.4 L1343.8,452.1 L1328.5,439 L1319.7,425.8 L1315.3,408.3 L1317.5,382 L1322,377.6 L1335,376.5 L1340.5,379.8 L1339.4,364.5 L1343.8,353.5 L1348.2,344.8 L1349.3,322.9 L1353.7,309.7 Z" fill="#fff" stroke-width="2.8"/>
<path d="M1383,306 Q1395,318 1401,335 L1413,370 L1413.5,420 L1411,470" fill="none" stroke-width="1.8"/>
<ellipse cx="1392.5" cy="304" rx="6" ry="7.5" transform="rotate(-25 1392.5 304)" fill="#fff" stroke-width="2.8"/>
<ellipse cx="1369" cy="316.3" rx="4.5" ry="6.5" transform="rotate(-20 1369 316.3)" fill="#fff" stroke-width="2.2"/>
<path d="M1362.4,327.2 L1372.3,326.2 L1378.9,332.7 L1382.2,353.5 L1396.4,373.3 L1398.6,382 L1398.6,419.3 L1394.2,421.5 L1384.4,414.9 L1383.3,395.2 L1374.5,389.7 L1370.1,397.4 L1367.9,409.4 L1361.3,408.3 L1353.7,403.9 L1352.6,366.7 L1361.3,355.7 Z" fill="none" stroke-width="2.4"/>
<path d="M1365,331 L1366,357 L1356,368 L1357,401 L1365,404" fill="none" stroke-width="1.6"/>
<ellipse cx="1375.6" cy="402.8" rx="2.5" ry="3.5" transform="rotate(-20 1375.6 402.8)" fill="#fff" stroke-width="1.8"/>
<path d="M1324,386.4 L1340.5,393 L1347.1,399.6 L1347.1,432.4 L1335,425.8 L1322,417 Z" fill="none" stroke-width="2.4"/>
<path d="M1327,392 L1330,398 L1330,418" fill="none" stroke-width="1.6"/>
<path d="M1363.3,482.4 L1390,465.7 A11,15 -32 0 0 1374,440.3 L1347.3,457 A11,15 -32 0 0 1363.3,482.4 Z" fill="#fff" stroke-width="2.8"/>
<ellipse cx="1355.3" cy="469.7" rx="11" ry="15" transform="rotate(-32 1355.3 469.7)" fill="#fff" stroke-width="2.8"/>
<ellipse cx="1356" cy="470.5" rx="8.5" ry="12" transform="rotate(-32 1356 470.5)" fill="#fff" stroke-width="2.8"/>
<path d="M1490,219.7 L1496.6,214.2 L1507.5,213.1 L1520.7,217.5 L1527.2,228.5 L1528.3,246 L1538.2,256.9 L1553.5,274.4 L1564.5,294.1 L1568.8,316 L1566.6,335.7 L1557.9,351 L1547,362 L1542.6,375.1 L1545.8,399.2 L1538.2,402.4 L1531.6,397 L1527.2,375.1 L1516.3,363.1 L1509.7,366.3 L1509.7,388.2 L1503.2,390.4 L1497.7,383.8 L1494.4,353.2 L1479.1,331.3 L1468.2,309.4 L1464.9,285.4 L1469.2,263.5 L1480.2,248.2 L1490,241.6 Z" fill="#fff" stroke-width="2.8"/>
<path d="M1517,219 Q1523,228 1523,246 Q1530,258 1547,275 Q1560,295 1563,318 Q1561,340 1550,352 Q1541,362 1538,378 L1540,400" fill="none" stroke-width="1.8"/>
<path d="M1490,219.7 L1507,222 L1520.7,217.5" fill="none" stroke-width="1.8"/>
<path d="M1503.2,232 Q1503,226 1509,226 Q1516,228 1516.3,236 L1516.3,250 Q1514,256 1508,254 Q1503,250 1503.2,244 Z" fill="#fff" stroke-width="2.2"/>
<path d="M1474.7,272.2 L1492.2,267.8 L1495.5,265.7 L1498.8,272.2 L1496.6,276.6 L1503.2,270 L1522.9,274.4 L1522.9,284.3 L1540.4,286.5 L1549.1,298.5 L1551.3,324.8 L1549.1,331.3 L1544.8,348.8 L1529.4,353.2 L1507.5,344.5 L1492.2,329.1 L1491.1,311.6 L1481.3,307.2 L1474.7,291.9 Z" fill="none" stroke-width="2.4"/>
<path d="M1478,277 L1478,292 L1484,304 L1494,309 L1495,328 L1510,341" fill="none" stroke-width="1.6"/>
<path d="M1444.1,262 Q1444,255 1440,254.5 Q1436,255 1436,259 L1434.2,288" fill="none" stroke-width="2.2"/>
<ellipse cx="1440.2" cy="292" rx="12.2" ry="4.6" transform="rotate(-8 1440.2 292)" fill="#fff" stroke-width="2.2"/>
<ellipse cx="1440.2" cy="296.3" rx="12.2" ry="4.6" transform="rotate(-8 1440.2 296.3)" fill="#fff" stroke-width="2.2"/>
<ellipse cx="1440.2" cy="300.6" rx="12.2" ry="4.6" transform="rotate(-8 1440.2 300.6)" fill="#fff" stroke-width="2.2"/>
<ellipse cx="1440.2" cy="304.9" rx="12.2" ry="4.6" transform="rotate(-8 1440.2 304.9)" fill="#fff" stroke-width="2.2"/>
<ellipse cx="1440.2" cy="309.2" rx="12.2" ry="4.6" transform="rotate(-8 1440.2 309.2)" fill="#fff" stroke-width="2.2"/>
<path d="M1437.5,311 L1438.6,343 Q1440,348 1444.5,347 Q1448.5,346 1448.5,341" fill="none" stroke-width="2.2"/>
<ellipse cx="1626" cy="316.5" rx="18.5" ry="24.5" transform="rotate(-18 1626 316.5)" fill="#fff" stroke-width="2.8"/>
<ellipse cx="1622.5" cy="318" rx="18.5" ry="24.5" transform="rotate(-18 1622.5 318)" fill="#fff" stroke-width="2.8"/>
<ellipse cx="1622" cy="320" rx="9.5" ry="15.2" transform="rotate(-18 1622 320)" fill="#fff" stroke-width="2.8"/>
<ellipse cx="1620.5" cy="320.5" rx="5" ry="11" transform="rotate(-18 1620.5 320.5)" fill="none" stroke-width="1.8"/>
<path d="M1250,436.3 L1293.7,460 L1288,468 L1279,473 L1290,500" fill="none" stroke-width="6"/>
<path d="M1250,436.3 L1293.7,460 L1288,468 L1279,473 L1290,500" fill="none" stroke="#fff" stroke-width="1.6"/>
<ellipse cx="1318.4" cy="491.8" rx="17.5" ry="26" transform="rotate(-22 1318.4 491.8)" fill="#fff" stroke-width="5.6"/>
<ellipse cx="1318.4" cy="491.8" rx="17.5" ry="26" transform="rotate(-22 1318.4 491.8)" fill="none" stroke="#fff" stroke-width="1.4"/>
<ellipse cx="1312.8" cy="495.6" rx="17.5" ry="26" transform="rotate(-22 1312.8 495.6)" fill="#fff" stroke-width="5.6"/>
<ellipse cx="1312.8" cy="495.6" rx="17.5" ry="26" transform="rotate(-22 1312.8 495.6)" fill="none" stroke="#fff" stroke-width="1.4"/>
<ellipse cx="1307.2" cy="499.4" rx="17.5" ry="26" transform="rotate(-22 1307.2 499.4)" fill="#fff" stroke-width="5.6"/>
<ellipse cx="1307.2" cy="499.4" rx="17.5" ry="26" transform="rotate(-22 1307.2 499.4)" fill="none" stroke="#fff" stroke-width="1.4"/>
<ellipse cx="1301.6" cy="503.2" rx="17.5" ry="26" transform="rotate(-22 1301.6 503.2)" fill="#fff" stroke-width="5.6"/>
<ellipse cx="1301.6" cy="503.2" rx="17.5" ry="26" transform="rotate(-22 1301.6 503.2)" fill="none" stroke="#fff" stroke-width="1.4"/>
<ellipse cx="1296" cy="507" rx="17.5" ry="26" transform="rotate(-22 1296 507)" fill="#fff" stroke-width="5.6"/>
<ellipse cx="1296" cy="507" rx="17.5" ry="26" transform="rotate(-22 1296 507)" fill="none" stroke="#fff" stroke-width="1.4"/>
<ellipse cx="1297" cy="507.5" rx="10.5" ry="18.5" transform="rotate(-22 1297 507.5)" fill="none" stroke-width="2.4"/>
<ellipse cx="1299" cy="506.5" rx="7" ry="14.5" transform="rotate(-22 1299 506.5)" fill="none" stroke-width="1.8"/>
<path d="M1250,465.5 L1271.8,478 L1276,497 L1285,520" fill="none" stroke-width="6"/>
<path d="M1250,465.5 L1271.8,478 L1276,497 L1285,520" fill="none" stroke="#fff" stroke-width="1.6"/>
<path d="M1149.1,793.5 Q1152,784 1159,784.6 Q1166,785 1170.9,787.5 L1178.8,795.4 L1196.6,786.5 L1202.6,789.5 L1202.6,809.3 L1192,815.2 Q1212,830 1216.4,845 Q1220,865 1212.5,878.6 Q1205,886 1198.6,884.6 Q1188,882 1182.8,878.6 L1149.1,856.8 Z" fill="#fff" stroke-width="2.8"/>
<path d="M1159,792 Q1160,805 1170,812 L1195,826 Q1210,840 1211,860 M1178.8,795.4 L1190,800 L1202.6,792 M1190,800 L1190,815" fill="none" stroke-width="1.8"/>
<path d="M1151.1,890.1 L1196.1,869.1 A9.5,14.5 -25 0 0 1183.9,842.9 L1138.9,863.9 A9.5,14.5 -25 0 0 1151.1,890.1 Z" fill="#fff" stroke-width="2.8"/>
<ellipse cx="1186.7" cy="854.9" rx="11" ry="16.5" transform="rotate(-22 1186.7 854.9)" fill="#fff" stroke-width="2.8"/>
<ellipse cx="1185" cy="855.5" rx="7.5" ry="13" transform="rotate(-22 1185 855.5)" fill="none" stroke-width="1.8"/>
<path d="M1105,762 L1113.5,759.8 Q1122,758 1125.3,761.8 Q1129,766 1129.3,771.7 L1139.2,858.8 L1143.2,884.6 Q1145,898 1141.2,904.4 Q1135,916 1127.3,918.2 Q1117,920 1109.5,916.2 Q1100,910 1097.6,898.4 Q1094,888 1095.6,878.6 L1101.6,866.7 L1102.6,799.4 L1098,796 Z" fill="#fff" stroke-width="2.8"/>
<path d="M1118,761 Q1124,767 1125,778 L1135,862 L1139,886 Q1140,900 1136,908" fill="none" stroke-width="1.8"/>
<path d="M1094,794.3 L1118.2,784.7 A7,11.5 -21.6 0 0 1109.8,763.3 L1085.6,772.9 A7,11.5 -21.6 0 0 1094,794.3 Z" fill="#fff" stroke-width="2.8"/>
<ellipse cx="1098" cy="780.3" rx="6.5" ry="11" transform="rotate(-22 1098 780.3)" fill="none" stroke-width="1.8"/>
<ellipse cx="1094.5" cy="781.7" rx="6.5" ry="11" transform="rotate(-22 1094.5 781.7)" fill="none" stroke-width="1.8"/>
<ellipse cx="1089.8" cy="783.6" rx="6.8" ry="11.5" transform="rotate(-22 1089.8 783.6)" fill="#fff" stroke-width="2.8"/>
<ellipse cx="1116" cy="894.5" rx="15.5" ry="19.5" transform="rotate(-22 1116 894.5)" fill="#fff" stroke-width="2.8"/>
<ellipse cx="1115.5" cy="893.5" rx="8" ry="11" transform="rotate(-22 1115.5 893.5)" fill="none" stroke-width="2.2"/>
<ellipse cx="1115.5" cy="893.5" rx="5" ry="7.5" transform="rotate(-22 1115.5 893.5)" fill="none" stroke-width="2"/>
<path d="M1228.1,555 L1266.4,533.3 A5.4,8 -29.5 0 0 1258.5,519.4 L1220.2,541.1 A5.4,8 -29.5 0 0 1228.1,555 Z" fill="#fff" stroke-width="2.8"/>
<path d="M1224.8,561.5 L1231.8,557.5 A8,12 -29.5 0 0 1220,536.6 L1213,540.6 A8,12 -29.5 0 0 1224.8,561.5 Z" fill="#fff" stroke-width="2.8"/>
<path d="M833.5,785.5 L1227.6,562.2 A9.4,14 -29.5 0 0 1213.8,537.8 L819.6,761.2 A9.4,14 -29.5 0 0 833.5,785.5 Z" fill="#fff" stroke-width="2.8"/>
<path d="M787.0999999999999,716.5 Q790,707 797,707.6 Q804,708 808.9000000000001,710.5 L816.8,718.4 L834.5999999999999,709.5 L840.5999999999999,712.5 L840.5999999999999,732.3 L830,738.2 Q850,753 854.4000000000001,768 Q858,788 850.5,801.6 Q843,809 836.5999999999999,807.6 Q826,805 820.8,801.6 L787.0999999999999,779.8 Z" fill="#fff" stroke-width="2.8"/>
<path d="M797,715 Q798,728 808,735 L833,749 Q848,763 849,783 M816.8,718.4 L828,723 L840.5999999999999,715 M828,723 L828,738" fill="none" stroke-width="1.8"/>
<ellipse cx="823.9" cy="774.8" rx="11.5" ry="17" transform="rotate(-29.5 823.9 774.8)" fill="#fff" stroke-width="2.8"/>
<ellipse cx="821.3" cy="776.3" rx="8.5" ry="14" transform="rotate(-29.5 821.3 776.3)" fill="none" stroke-width="1.8"/>
<path d="M752.5,831.4 L827.4,789 A9.4,14 -29.5 0 0 813.6,764.6 L738.7,807 A9.4,14 -29.5 0 0 752.5,831.4 Z" fill="#fff" stroke-width="2.8"/>
<path d="M743,685 L751.5,682.8 Q760,681 763.3,684.8 Q767,689 767.3,694.7 L777.2,781.8 L781.2,807.6 Q783,821 779.2,827.4 Q773,839 765.3,841.2 Q755,843 747.5,839.2 Q738,833 735.5999999999999,821.4 Q732,811 733.5999999999999,801.6 L739.5999999999999,789.7 L740.5999999999999,722.4 L736,719 Z" fill="#fff" stroke-width="2.8"/>
<path d="M756,684 Q762,690 763,701 L773,785 L777,809 Q778,823 774,831" fill="none" stroke-width="1.8"/>
<path d="M732,717.3 L756.2,707.7 A7,11.5 -21.6 0 0 747.8,686.3 L723.6,695.9 A7,11.5 -21.6 0 0 732,717.3 Z" fill="#fff" stroke-width="2.8"/>
<ellipse cx="736" cy="703.3" rx="6.5" ry="11" transform="rotate(-22 736 703.3)" fill="none" stroke-width="1.8"/>
<ellipse cx="732.5" cy="704.7" rx="6.5" ry="11" transform="rotate(-22 732.5 704.7)" fill="none" stroke-width="1.8"/>
<ellipse cx="727.8" cy="706.6" rx="6.8" ry="11.5" transform="rotate(-22 727.8 706.6)" fill="#fff" stroke-width="2.8"/>
<ellipse cx="754" cy="817.5" rx="15.5" ry="19.5" transform="rotate(-22 754 817.5)" fill="#fff" stroke-width="2.8"/>
<path d="M672.5,876.7 L755.2,829.9 A9.4,14 -29.5 0 0 741.3,805.5 L658.7,852.4 A9.4,14 -29.5 0 0 672.5,876.7 Z" fill="#fff" stroke-width="2.8"/>
<path d="M612.4,904.5 L643.7,886.7 A5.7,8.5 -29.5 0 0 635.3,872 L604,889.7 A5.7,8.5 -29.5 0 0 612.4,904.5 Z" fill="#fff" stroke-width="2.8"/>
<path d="M643.2,889.9 L672.8,873.1 A7.4,11 -29.5 0 0 661.9,854 L632.3,870.8 A7.4,11 -29.5 0 0 643.2,889.9 Z" fill="#fff" stroke-width="2.8"/>
<line x1="630.3" y1="873.1" x2="663.4" y2="854.4" stroke-width="1.5"/>
<line x1="634.1" y1="874.4" x2="667.2" y2="855.7" stroke-width="1.5"/>
<line x1="637.6" y1="877.6" x2="670.6" y2="858.9" stroke-width="1.5"/>
<line x1="640" y1="881.9" x2="673.1" y2="863.2" stroke-width="1.5"/>
<line x1="640.9" y1="886.5" x2="674" y2="867.8" stroke-width="1.5"/>
<line x1="640.2" y1="890.4" x2="673.2" y2="871.7" stroke-width="1.5"/>
<path d="M600.2,911.4 L614.1,903.5 A5.7,8.5 -29.5 0 0 605.7,888.7 L591.8,896.6 A5.7,8.5 -29.5 0 0 600.2,911.4 Z" fill="#fff" stroke-width="2.8"/>
<ellipse cx="596" cy="904" rx="5.7" ry="8.5" transform="rotate(-29.5 596 904)" fill="#fff" stroke-width="2.8"/>
<line x1="592.5" y1="898.5" x2="608.2" y2="889.6" stroke-width="1.6"/>
<line x1="597.5" y1="903.2" x2="613.1" y2="894.3" stroke-width="1.6"/>
<line x1="598.9" y1="909.8" x2="614.6" y2="901" stroke-width="1.6"/>
<ellipse cx="596" cy="904" rx="5.7" ry="8.5" transform="rotate(-29.5 596 904)" fill="#fff" stroke-width="2.8"/>
<ellipse cx="596" cy="904" rx="3" ry="4.5" transform="rotate(-29.5 596 904)" fill="none" stroke-width="1.6"/>
<path d="M673.6,788 L694.6,779 A4,6.5 -23.2 0 0 689.4,767 L668.4,776 A4,6.5 -23.2 0 0 673.6,788 Z" fill="#fff" stroke-width="2.8"/>
<path d="M675,773 Q678,778 676,784" fill="none" stroke-width="1.6"/>
<path d="M679.5,771 Q682.5,776 680.5,782" fill="none" stroke-width="1.6"/>
<path d="M684,769 Q687,774 685,780" fill="none" stroke-width="1.6"/>
<path d="M688.5,767 Q691.5,772 689.5,778" fill="none" stroke-width="1.6"/>
<path d="M651,787 L653,777 L662,773.5 L672,776 L676.4,790 L672,802 L664,806 L654,803 Z" fill="#fff" stroke-width="2.8"/>
<ellipse cx="658" cy="792" rx="7" ry="10.5" transform="rotate(-25 658 792)" fill="none" stroke-width="1.8"/>
<path d="M635.1,811.8 L659,800.3 A5,7 -25.7 0 0 653,787.7 L629.1,799.2 A5,7 -25.7 0 0 635.1,811.8 Z" fill="#fff" stroke-width="2.8"/>
<ellipse cx="632.1" cy="805.5" rx="5" ry="7" transform="rotate(-25.7 632.1 805.5)" fill="#fff" stroke-width="2.8"/>
<path d="M1532.5,601.7 Q1535,594 1540.9,594.6 L1547.5,595 L1566.7,605.8 L1578.4,606.7 Q1590,612 1595,620.9 Q1601,630 1600.9,638.4 Q1599,645 1595,648.4 L1585,658.4 L1576.7,654.2 L1549.2,631.7 Q1540,628 1536,624 Q1531,618 1532.5,610 Z" fill="#fff" stroke-width="2.8"/>
<path d="M1540.9,598.3 L1561.7,611.7 L1574,610 Q1586,616 1592,630 Q1595,642 1590,650" fill="none" stroke-width="1.8"/>
<ellipse cx="1547" cy="617" rx="6" ry="10" transform="rotate(-38 1547 617)" fill="#fff" stroke-width="2.4"/>
<ellipse cx="1547.5" cy="617" rx="2.5" ry="6" transform="rotate(-38 1547.5 617)" fill="none" stroke-width="1.8"/>
<path d="M1324.3,792 L1581.3,645.2 A11.2,14 -29.7 0 0 1567.4,620.9 L1310.4,767.7 A11.2,14 -29.7 0 0 1324.3,792 Z" fill="#fff" stroke-width="2.8"/>
<path d="M1246.3,830.8 L1278.4,812.5 A6,9 -29.7 0 0 1269.5,796.8 L1237.4,815.2 A6,9 -29.7 0 0 1246.3,830.8 Z" fill="#fff" stroke-width="2.8"/>
<ellipse cx="1241.9" cy="823" rx="6" ry="9" transform="rotate(-29.7 1241.9 823)" fill="#fff" stroke-width="2.8"/>
<ellipse cx="1241.9" cy="823" rx="4" ry="6" transform="rotate(-29.7 1241.9 823)" fill="none" stroke-width="1.8"/>
<path d="M1276.2,816.6 L1326.6,787.9 A7.7,11.5 -29.7 0 0 1315.2,767.9 L1264.8,796.7 A7.7,11.5 -29.7 0 0 1276.2,816.6 Z" fill="#fff" stroke-width="2.8"/>
<line x1="1264" y1="797.9" x2="1316" y2="768.2" stroke-width="1.5"/>
<line x1="1267.5" y1="798.7" x2="1319.6" y2="769" stroke-width="1.5"/>
<line x1="1270.9" y1="801.2" x2="1323" y2="771.4" stroke-width="1.5"/>
<line x1="1273.7" y1="804.8" x2="1325.8" y2="775" stroke-width="1.5"/>
<line x1="1275.4" y1="809.1" x2="1327.5" y2="779.3" stroke-width="1.5"/>
<line x1="1275.8" y1="813.3" x2="1327.9" y2="783.5" stroke-width="1.5"/>
<line x1="1274.7" y1="816.7" x2="1326.8" y2="786.9" stroke-width="1.5"/>
<ellipse cx="1632.5" cy="539" rx="12" ry="16.5" transform="rotate(-30 1632.5 539)" fill="#fff" stroke-width="2.8"/>
<path d="M1640,528 L1645,524 Q1662,518 1675,525 Q1683,532 1681,545 L1668,566 Q1660,575 1645,576 L1630,573 L1614,585 L1602,589 Q1597,588 1600,582 L1605,572 L1620,562 L1635,540 Z" fill="#fff" stroke-width="2.8"/>
<path d="M1605,572 L1614,570 L1618,580" fill="none" stroke-width="1.8"/>
<path d="M1620,562 L1628,567 L1630,573" fill="none" stroke-width="1.8"/>
<path d="M1812.5,625.3 L1666.7,541.8 A9.6,17.5 -150.2 0 0 1649.3,572.2 L1795.1,655.7 A9.6,17.5 -150.2 0 0 1812.5,625.3 Z" fill="#fff" stroke-width="2.8"/>
<path d="M1841.8,642.6 L1811.4,625.2 A8.8,17 -150.2 0 0 1794.5,654.8 L1824.9,672.1 A8.8,17 -150.2 0 0 1841.8,642.6 Z" fill="#fff" stroke-width="2.8"/>
<line x1="1810" y1="625.1" x2="1839.5" y2="642" stroke-width="1.6"/>
<line x1="1806.1" y1="626" x2="1835.6" y2="642.9" stroke-width="1.6"/>
<line x1="1801.8" y1="628.9" x2="1831.3" y2="645.8" stroke-width="1.6"/>
<line x1="1797.9" y1="633.4" x2="1827.4" y2="650.3" stroke-width="1.6"/>
<line x1="1794.7" y1="638.9" x2="1824.2" y2="655.8" stroke-width="1.6"/>
<line x1="1792.8" y1="644.6" x2="1822.3" y2="661.5" stroke-width="1.6"/>
<line x1="1792.5" y1="649.8" x2="1822" y2="666.7" stroke-width="1.6"/>
<line x1="1793.7" y1="653.6" x2="1823.2" y2="670.5" stroke-width="1.6"/>
<path d="M1847.7,648.4 L1839.1,643.4 A7.8,15 -150.2 0 0 1824.1,669.4 L1832.8,674.4 A7.8,15 -150.2 0 0 1847.7,648.4 Z" fill="#fff" stroke-width="2.8"/>
<path d="M1861.1,653.1 L1848.1,645.7 A9.1,17.5 -150.2 0 0 1830.7,676.1 L1843.7,683.5 A9.1,17.5 -150.2 0 0 1861.1,653.1 Z" fill="#fff" stroke-width="2.8"/>
<line x1="1846.6" y1="645.1" x2="1859.6" y2="652.6" stroke-width="1.5"/>
<line x1="1843" y1="645.5" x2="1856" y2="652.9" stroke-width="1.5"/>
<line x1="1839" y1="647.6" x2="1852" y2="655.1" stroke-width="1.5"/>
<line x1="1835" y1="651.4" x2="1848" y2="658.9" stroke-width="1.5"/>
<line x1="1831.5" y1="656.4" x2="1844.5" y2="663.8" stroke-width="1.5"/>
<line x1="1829" y1="661.8" x2="1842" y2="669.3" stroke-width="1.5"/>
<line x1="1827.8" y1="667.2" x2="1840.8" y2="674.6" stroke-width="1.5"/>
<line x1="1827.9" y1="671.8" x2="1841" y2="679.2" stroke-width="1.5"/>
<line x1="1829.5" y1="675" x2="1842.5" y2="682.5" stroke-width="1.5"/>
<ellipse cx="1852.4" cy="668.3" rx="9.1" ry="17.5" transform="rotate(29.8 1852.4 668.3)" fill="#fff" stroke-width="2.8"/>
<ellipse cx="1852.4" cy="668.3" rx="6.8" ry="13" transform="rotate(29.8 1852.4 668.3)" fill="none" stroke-width="2"/>
<path d="M1849.9,671.8 L1849.9,667.3 L1853.4,663.8 L1854.9,665.3 L1854.9,669.8 L1851.4,673.3 Z" fill="none" stroke-width="2"/>
<ellipse cx="1713" cy="502.5" rx="10" ry="14.5" transform="rotate(-20 1713 502.5)" fill="#fff" stroke-width="2.8"/>
<ellipse cx="1713" cy="502.5" rx="4.5" ry="7.5" transform="rotate(-20 1713 502.5)" fill="none" stroke-width="2"/>
<path d="M1734.8,496.7 L1759.8,481.7 A3.5,5.5 -31 0 0 1754.2,472.3 L1729.2,487.3 A3.5,5.5 -31 0 0 1734.8,496.7 Z" fill="#fff" stroke-width="2.8"/>
<ellipse cx="1732" cy="492" rx="3.5" ry="5.5" transform="rotate(-31 1732 492)" fill="#fff" stroke-width="2.8"/>
<path d="M1734,486 Q1736.5,491 1735,496" fill="none" stroke-width="1.6"/>
<path d="M1737.8,483.7 Q1740.3,488.7 1738.8,493.7" fill="none" stroke-width="1.6"/>
<path d="M1741.6,481.4 Q1744.1,486.4 1742.6,491.4" fill="none" stroke-width="1.6"/>
<path d="M1745.4,479.1 Q1747.9,484.1 1746.4,489.1" fill="none" stroke-width="1.6"/>
<path d="M1749.2,476.8 Q1751.7,481.8 1750.2,486.8" fill="none" stroke-width="1.6"/>
<path d="M1753,474.5 Q1755.5,479.5 1754,484.5" fill="none" stroke-width="1.6"/>
<ellipse cx="1762" cy="475" rx="7.5" ry="11.5" transform="rotate(-25 1762 475)" fill="#fff" stroke-width="2.8"/>
<path d="M1760,470 L1762,463 L1770,460 L1778,462 L1780,472 L1776,482 L1768,485 L1762,481 Z" fill="#fff" stroke-width="2.8"/>
<ellipse cx="1771" cy="472" rx="6" ry="9" transform="rotate(-25 1771 472)" fill="none" stroke-width="1.8"/>
</svg></body></html>
